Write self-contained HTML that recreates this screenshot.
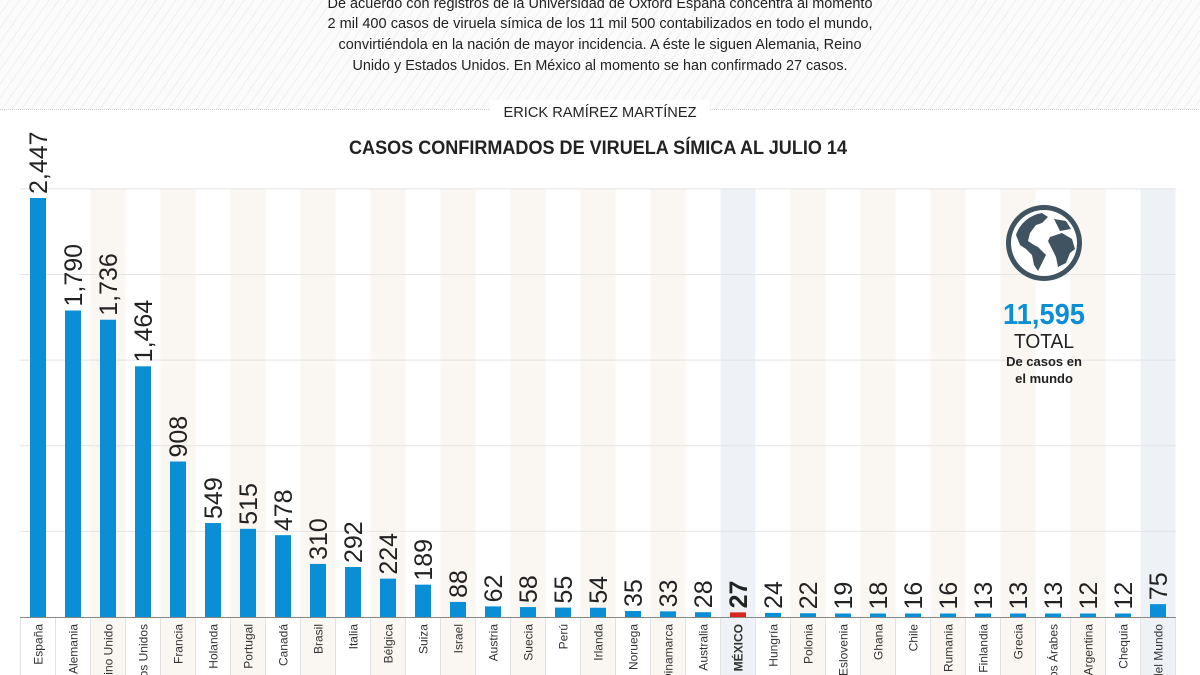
<!DOCTYPE html>
<html><head><meta charset="utf-8"><style>
html,body{margin:0;padding:0;background:#fff;}
body{width:1200px;height:675px;overflow:hidden;}
svg{display:block;font-family:"Liberation Sans",sans-serif;}
</style></head><body>
<svg id="s" width="1200" height="675" viewBox="0 0 1200 675" xmlns="http://www.w3.org/2000/svg">
<defs>
<pattern id="h" width="8" height="8" patternUnits="userSpaceOnUse" patternTransform="rotate(35)">
<rect width="8" height="8" fill="#fbfbfb"/><line x1="0" y1="0" x2="0" y2="8" stroke="#e6e6e6" stroke-width="1"/>
</pattern>
<clipPath id="clip"><rect x="0" y="0" width="1200" height="675"/></clipPath>
</defs>
<g clip-path="url(#clip)">
<rect x="0" y="0" width="1200" height="110" fill="url(#h)"/>
<line x1="0" y1="109.5" x2="1200" y2="109.5" stroke="#cfcfcf" stroke-dasharray="1,1"/>
<g fill="#222" font-size="15" text-anchor="middle">
<text x="600" y="8" textLength="545" lengthAdjust="spacingAndGlyphs">De acuerdo con registros de la Universidad de Oxford España concentra al momento</text>
<text x="600" y="28" textLength="545" lengthAdjust="spacingAndGlyphs">2 mil 400 casos de viruela símica de los 11 mil 500 contabilizados en todo el mundo,</text>
<text x="600" y="49" textLength="523" lengthAdjust="spacingAndGlyphs">convirtiéndola en la nación de mayor incidencia. A éste le siguen Alemania, Reino</text>
<text x="600" y="70" textLength="495" lengthAdjust="spacingAndGlyphs">Unido y Estados Unidos. En México al momento se han confirmado 27 casos.</text>
</g>
<rect x="490" y="100" width="220" height="22" fill="#fff"/>
<text x="600" y="117" text-anchor="middle" font-size="15" fill="#222" textLength="193" lengthAdjust="spacingAndGlyphs">ERICK RAMÍREZ MARTÍNEZ</text>
<text x="598" y="154" text-anchor="middle" font-size="19" font-weight="bold" fill="#222" textLength="498" lengthAdjust="spacingAndGlyphs">CASOS CONFIRMADOS DE VIRUELA SÍMICA AL JULIO 14</text>
<g id="cols"></g>
<g id="grid" stroke="#e4e4e4" stroke-width="1"></g>
<g id="bars"></g>
<line x1="20" y1="617.5" x2="1176" y2="617.5" stroke="#888" stroke-width="1"/>
<g id="labs"></g>
<g transform="translate(1044,243)">
<circle r="38" fill="#3f5360"/>
<circle r="33" fill="#fff"/>
<path d="M-28,-8 C-24,-20 -14,-28 -2,-30 L4,-26 L-2,-20 L-8,-18 L-14,-10 L-16,-2 L-10,2 L-6,4 L-2,8 L2,12 L-2,20 L-6,28 L-10,22 L-12,12 L-18,6 L-24,2 Z" fill="#3f5360"/>
<path d="M6,-6 L18,-10 L28,-4 L31,6 L26,10 L22,20 L14,24 L12,14 L8,6 L4,-2 Z" fill="#3f5360"/>
<path d="M10,-24 L22,-22 L27,-14 L16,-12 Z" fill="#3f5360"/>
</g>
<text x="1044" y="324" text-anchor="middle" font-size="29" font-weight="bold" fill="#0a8fd6" textLength="82" lengthAdjust="spacingAndGlyphs">11,595</text>
<text x="1044" y="348" text-anchor="middle" font-size="20" fill="#222" textLength="60" lengthAdjust="spacingAndGlyphs">TOTAL</text>
<text x="1044" y="366" text-anchor="middle" font-size="13" font-weight="bold" fill="#222">De casos en</text>
<text x="1044" y="383" text-anchor="middle" font-size="13" font-weight="bold" fill="#222">el mundo</text>
</g>
</svg>
<script>
(function(){
var names=["España","Alemania","Reino Unido","Estados Unidos","Francia","Holanda","Portugal","Canadá","Brasil","Italia","Bélgica","Suiza","Israel","Austria","Suecia","Perú","Irlanda","Noruega","Dinamarca","Australia","MÉXICO","Hungría","Polonia","Eslovenia","Ghana","Chile","Rumania","Finlandia","Grecia","Emiratos Árabes","Argentina","Chequia","Resto del Mundo"];
var vals=[2447,1790,1736,1464,908,549,515,478,310,292,224,189,88,62,58,55,54,35,33,28,27,24,22,19,18,16,16,13,13,13,12,12,75];
var NS="http://www.w3.org/2000/svg";
function el(t,a,p,txt){var e=document.createElementNS(NS,t);for(var q in a)e.setAttribute(q,a[q]);if(txt!=null)e.textContent=txt;document.getElementById(p).appendChild(e);return e;}
var base=617,k=419/2447;
for(var i=0;i<33;i++){
 var cx=38+35*i,x0=cx-17.5;
 var fill=null;
 if(i==20||i==32)fill="#eef2f6";else if(i%2==0&&i>0)fill="#faf6f2";
 if(fill)el("rect",{x:x0,y:189,width:35,height:486,fill:fill},"cols");
 el("line",{x1:x0,y1:618,x2:x0,y2:675,stroke:"#e2e2e2"},"cols");
 var h=Math.max(vals[i]*k,3.5),ty=base-h;
 el("rect",{x:cx-8,y:ty,width:16,height:h,fill:i==20?"#d9261c":"#0a8fd6"},"bars");
 el("text",{transform:"translate("+(cx+9)+","+(ty-4)+") rotate(-90)","font-size":"25","fill":"#222","font-weight":i==20?"bold":"normal"},"labs",vals[i].toLocaleString("en-US"));
 el("text",{transform:"translate("+(cx+4.5)+",624) rotate(-90)","font-size":"12","fill":"#333","text-anchor":"end","font-weight":i==20?"bold":"normal"},"labs",names[i]);
}
el("line",{x1:1175.5,y1:618,x2:1175.5,y2:675,stroke:"#e2e2e2"},"cols");
for(var g=1;g<=5;g++){var y=base-g*500*k;el("line",{x1:20,y1:y,x2:1176,y2:y},"grid");}
})();
</script>
</body></html>
